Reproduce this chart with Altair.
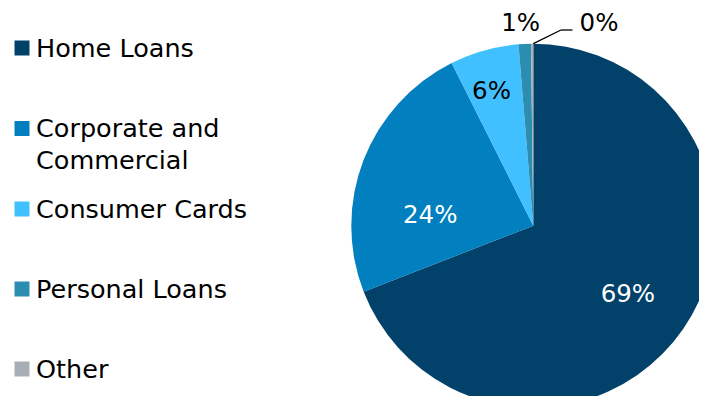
import altair as alt
import pandas as pd

# ---- data ----
categories = ["Home Loans", "Corporate and Commercial", "Consumer Cards", "Personal Loans", "Other"]
legend_labels = ["Home Loans", "Corporate and\nCommercial", "Consumer Cards", "Personal Loans", "Other"]
shares = [69.1, 23.5, 6.1, 1.1, 0.2]
pct_labels = ["69%", "24%", "6%", "1%", "0%"]
colors = ["#02426A", "#027FBF", "#40C0FF", "#2B8EB0", "#A8AEB6"]

df = pd.DataFrame({"cat": categories, "val": shares, "lab": pct_labels,
                   "idx": list(range(len(categories)))})

FONT = "DejaVu Sans"
CX, CY, R = 525.3, 217.7, 182

color_scale = alt.Scale(domain=categories, range=colors)

base = alt.Chart(df).encode(
    theta=alt.Theta("val:Q", stack=True),
    order=alt.Order("idx:Q"),
)

pie = base.mark_arc(radius=R).encode(
    color=alt.Color("cat:N", scale=color_scale, legend=None),
    x=alt.value(CX), y=alt.value(CY),
)

# per-label style: (radius, dx, dy, colour)
label_style = [
    (117, -2, 3, "white"),
    (104, -6, 28, "white"),
    (140, -4, 1, "black"),
    (206, -3, 4.5, "black"),
    (205, 67, 3, "black"),
]

layers = [pie]
for cat, (r, dx, dy, col) in zip(categories, label_style):
    layers.append(
        base.mark_text(radius=r, dx=dx, dy=dy, font=FONT, fontSize=24.5, color=col).encode(
            text=alt.condition(alt.datum.cat == cat, "lab:N", alt.value("")),
            x=alt.value(CX), y=alt.value(CY),
        )
    )

# leader line for the "0%" label
lead = pd.DataFrame({"k": [0]})
layers.append(alt.Chart(lead).mark_rule(color="black", strokeWidth=1.3).encode(
    x=alt.value(CX), y=alt.value(CY - R), x2=alt.value(553), y2=alt.value(22)))
layers.append(alt.Chart(lead).mark_rule(color="black", strokeWidth=1.3).encode(
    x=alt.value(553), y=alt.value(22), x2=alt.value(564.5), y2=alt.value(22)))

# manual legend (irregular spacing as in the reference)
legend_y = [40, 120.5, 201, 281, 361]
for lab, col, yy in zip(legend_labels, colors, legend_y):
    ld = pd.DataFrame({"t": [lab]})
    layers.append(alt.Chart(ld).mark_square(size=225, color=col, opacity=1).encode(
        x=alt.value(14), y=alt.value(yy)))
    layers.append(alt.Chart(ld).mark_text(align="left", baseline="alphabetic", lineBreak="\n",
                                          lineHeight=32, font=FONT, fontSize=25.5, color="black").encode(
        text="t:N", x=alt.value(28), y=alt.value(yy + 8.5)))

chart = alt.layer(*layers).properties(
    width=691, height=388, padding=0, autosize=alt.AutoSizeParams(type="none")
).configure_view(stroke=None)

chart.save("out.html", embed_options={"renderer": "svg", "actions": False})
